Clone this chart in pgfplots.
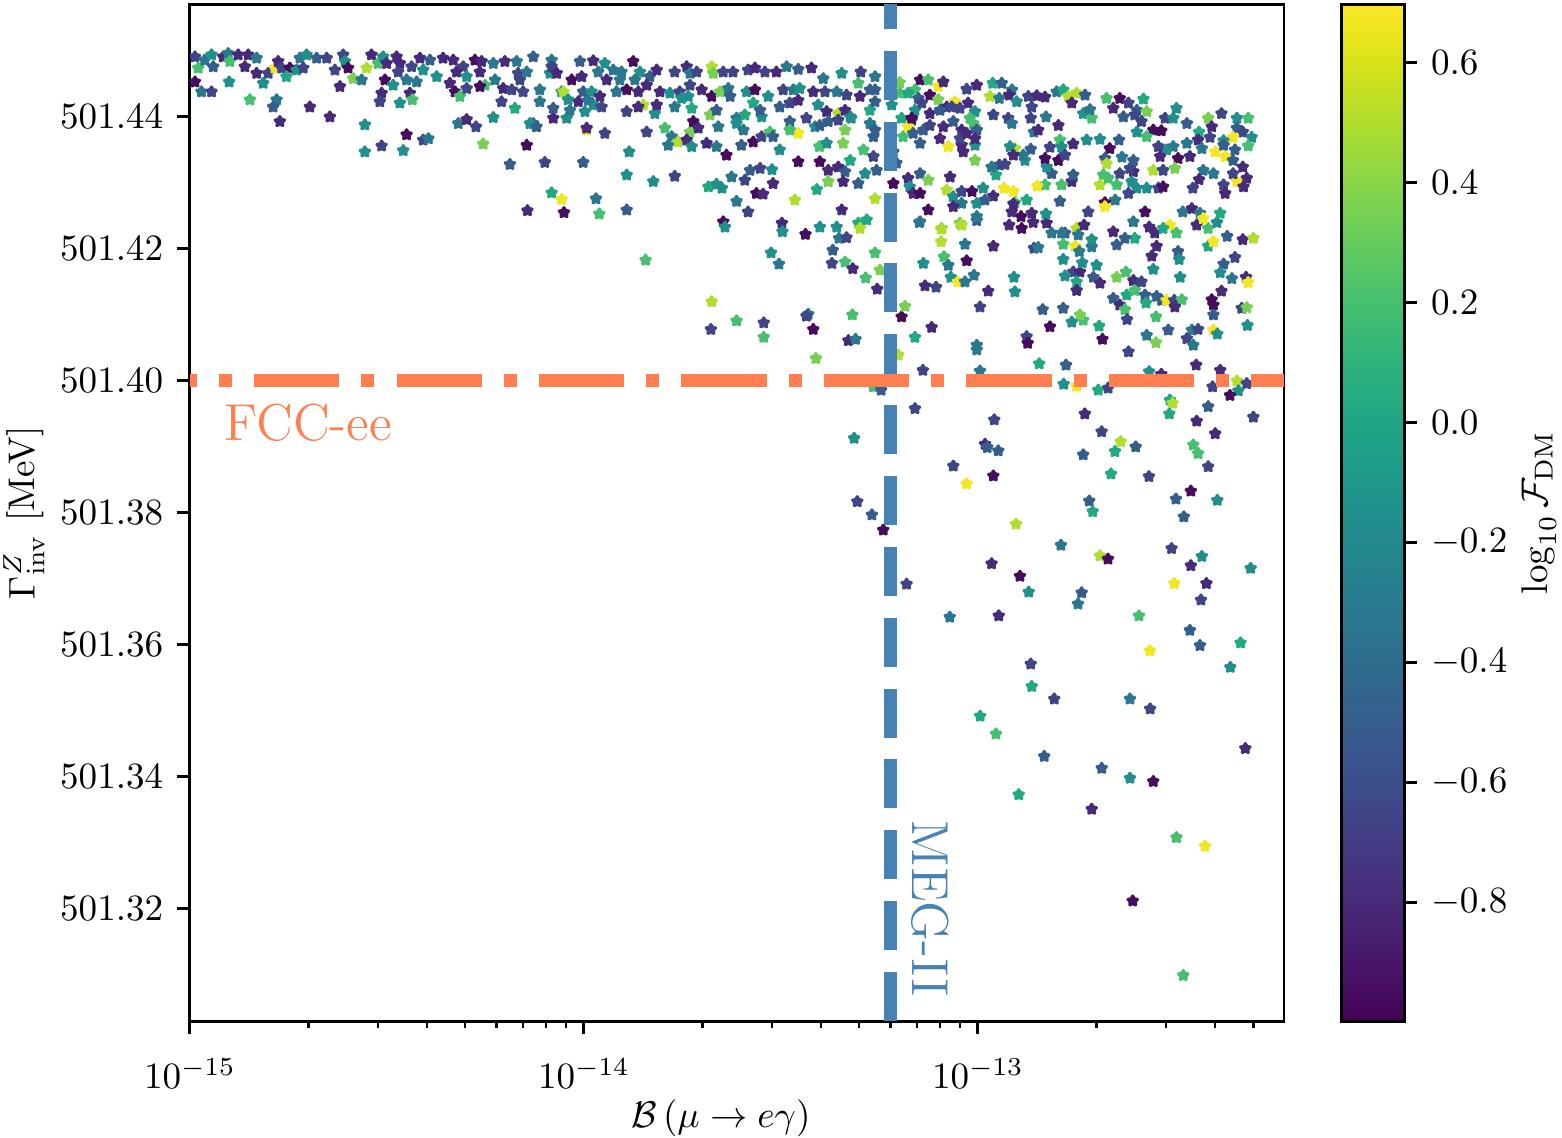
\documentclass[border=0pt]{standalone}
\usepackage{pgfplots}
\pgfplotsset{compat=1.18}
\definecolor{coral}{RGB}{255,127,80}
\definecolor{steelblue}{RGB}{70,130,180}
\def\ystrip#1.#2\relax{0.#2}
\pgfdeclareplotmark{fstar}{%
  \pgfsetroundjoin
  \pgfpathmoveto{\pgfpointpolar{90}{\pgfplotmarksize}}%
  \pgfpathlineto{\pgfpointpolar{126}{0.55*\pgfplotmarksize}}%
  \pgfpathlineto{\pgfpointpolar{162}{\pgfplotmarksize}}%
  \pgfpathlineto{\pgfpointpolar{198}{0.55*\pgfplotmarksize}}%
  \pgfpathlineto{\pgfpointpolar{234}{\pgfplotmarksize}}%
  \pgfpathlineto{\pgfpointpolar{270}{0.55*\pgfplotmarksize}}%
  \pgfpathlineto{\pgfpointpolar{306}{\pgfplotmarksize}}%
  \pgfpathlineto{\pgfpointpolar{342}{0.55*\pgfplotmarksize}}%
  \pgfpathlineto{\pgfpointpolar{18}{\pgfplotmarksize}}%
  \pgfpathlineto{\pgfpointpolar{54}{0.55*\pgfplotmarksize}}%
  \pgfpathclose
  \pgfusepathqfillstroke
}
\begin{document}
\begin{tikzpicture}
\begin{axis}[
  at={(0,0)}, anchor=south west,
  scale only axis, width=294.9pt, height=274.1pt,
  xmode=log, xmin=1e-15, xmax=5.98e-13,
  ymin=501.3029, ymax=501.4570,
  y coord trafo/.code={\pgfmathfloatparsenumber{#1}\pgfmathfloattofixed{\pgfmathresult}\edef\pgfmathresult{\expandafter\ystrip\pgfmathresult\relax}},
  enlargelimits=false,
  clip marker paths=true,
  xtick={1e-15,1e-14,1e-13},
  xticklabels={$10^{-15}$,$10^{-14}$,$10^{-13}$},
  minor xtick={2e-15,3e-15,4e-15,5e-15,6e-15,7e-15,8e-15,9e-15,2e-14,3e-14,4e-14,5e-14,6e-14,7e-14,8e-14,9e-14,2e-13,3e-13,4e-13,5e-13},
  ytick={501.32,501.34,501.36,501.38,501.40,501.42,501.44},
  yticklabels={$501.32$,$501.34$,$501.36$,$501.38$,$501.40$,$501.42$,$501.44$},
  xticklabel style={anchor=base, inner sep=0pt, yshift=-14.74pt},
  yticklabel style={anchor=east, inner sep=0pt, xshift=-3.5pt},
  tick align=outside, xtick pos=bottom, ytick pos=left,
  major tick length=3.5pt, minor tick length=2pt,
  tick style={line width=0.8pt, black},
  minor tick style={line width=0.6pt, black},
  axis line style={line width=0.8pt},
  colormap/viridis,
  point meta min=-0.998, point meta max=0.697,
]
\addplot[scatter, only marks, mark=fstar, mark size=1.35pt, line width=0.8pt,
  scatter src=explicit,
  scatter/use mapped color={draw=mapped color, fill=mapped color}]
  table[x=x, y=y, meta=c, row sep=\\] {
x y c\\
1.03e-15 501.4490 -0.65\\
1.05e-15 501.4473 0.20\\
1.03e-15 501.4452 -0.95\\
1.07e-15 501.4437 -0.33\\
1.09e-15 501.4485 -0.33\\
1.135e-15 501.4493 -0.15\\
1.146e-15 501.4475 -0.50\\
1.135e-15 501.4437 -0.65\\
1.215e-15 501.4490 -0.80\\
1.251e-15 501.4495 -0.33\\
1.263e-15 501.4483 0.20\\
1.258e-15 501.4452 -0.15\\
1.326e-15 501.4493 -0.80\\
1.406e-15 501.4493 -0.80\\
1.379e-15 501.4475 -0.80\\
1.477e-15 501.4488 -0.33\\
1.477e-15 501.4465 -0.80\\
1.58e-15 501.4465 -0.65\\
1.535e-15 501.4450 -0.15\\
1.42e-15 501.4425 0.20\\
1.644e-15 501.4473 0.67\\
1.675e-15 501.4483 -0.80\\
1.71e-15 501.4473 -0.65\\
1.794e-15 501.4473 -0.95\\
1.758e-15 501.4460 0.02\\
1.866e-15 501.4470 -0.15\\
1.902e-15 501.4488 -0.33\\
1.978e-15 501.4493 -0.15\\
1.94e-15 501.4473 -0.65\\
2.097e-15 501.4488 -0.50\\
2.224e-15 501.4488 -0.65\\
1.66e-15 501.4425 -0.33\\
1.627e-15 501.4414 -0.50\\
1.692e-15 501.4392 -0.80\\
2.016e-15 501.4414 -0.80\\
2.266e-15 501.4399 -0.80\\
2.45e-15 501.4493 -0.65\\
2.475e-15 501.4483 -0.15\\
2.334e-15 501.4470 -0.65\\
2.403e-15 501.4445 -0.80\\
2.52e-15 501.4473 -0.95\\
2.597e-15 501.4457 0.35\\
2.728e-15 501.4455 -0.33\\
2.809e-15 501.4473 0.50\\
2.89e-15 501.4493 -0.80\\
3.005e-15 501.4480 0.20\\
3.095e-15 501.4490 -0.15\\
3.126e-15 501.4455 -0.95\\
3.157e-15 501.4480 -0.80\\
3.28e-15 501.4447 -0.15\\
3.347e-15 501.4490 -0.80\\
3.412e-15 501.4480 -0.80\\
3.378e-15 501.4467 -0.65\\
3.548e-15 501.4455 -0.33\\
3.762e-15 501.4452 -0.33\\
3.653e-15 501.4475 -0.65\\
3.835e-15 501.4488 -0.80\\
4.066e-15 501.4485 -0.50\\
3.91e-15 501.4470 -0.15\\
4.23e-15 501.4460 -0.15\\
3.066e-15 501.4435 -0.80\\
3.035e-15 501.4422 -0.65\\
3.412e-15 501.4420 -0.15\\
3.617e-15 501.4435 -0.80\\
3.67e-15 501.4425 0.20\\
2.78e-15 501.4387 -0.15\\
3.548e-15 501.4372 -0.95\\
3.91e-15 501.4364 -0.65\\
4.03e-15 501.4366 -0.33\\
3.066e-15 501.4355 -0.65\\
2.78e-15 501.4346 -0.15\\
3.48e-15 501.4348 -0.15\\
4.39e-15 501.4488 -0.80\\
4.66e-15 501.4485 -0.80\\
4.94e-15 501.4475 -0.65\\
4.75e-15 501.4467 -0.80\\
4.57e-15 501.4450 -0.80\\
4.71e-15 501.4437 -0.95\\
4.845e-15 501.4430 0.20\\
5.04e-15 501.4442 -0.65\\
5.04e-15 501.4460 -0.15\\
5.29e-15 501.4485 -0.95\\
5.50e-15 501.4483 -0.80\\
5.446e-15 501.4467 -0.80\\
5.61e-15 501.4447 0.20\\
5.446e-15 501.4445 -0.95\\
5.89e-15 501.4480 -0.33\\
5.95e-15 501.4455 -0.33\\
6.30e-15 501.4483 -0.80\\
6.24e-15 501.4442 -0.80\\
6.18e-15 501.4422 -0.65\\
6.68e-15 501.4412 0.02\\
6.75e-15 501.4483 -0.33\\
6.81e-15 501.4465 -0.65\\
6.88e-15 501.4455 -0.65\\
6.56e-15 501.4440 -0.65\\
7.01e-15 501.4437 -0.65\\
7.44e-15 501.4490 -0.50\\
7.16e-15 501.4467 -0.33\\
7.73e-15 501.4422 -0.33\\
7.44e-15 501.4389 -0.33\\
7.73e-15 501.4440 -0.33\\
8.28e-15 501.4485 -0.33\\
8.20e-15 501.4465 -0.15\\
8.28e-15 501.4475 -0.65\\
8.53e-15 501.4465 -0.80\\
8.78e-15 501.4437 -0.15\\
8.36e-15 501.4397 -0.80\\
9.04e-15 501.4397 -0.15\\
8.87e-15 501.4437 0.50\\
9.31e-15 501.4455 -0.95\\
9.77e-15 501.4483 -0.50\\
9.87e-15 501.4460 -0.80\\
9.96e-15 501.4437 -0.50\\
9.68e-15 501.4422 -0.80\\
9.22e-15 501.4409 -0.33\\
1.006e-14 501.4407 -0.15\\
1.016e-14 501.4379 0.67\\
9.12e-15 501.4425 -0.15\\
8.36e-15 501.4412 -0.50\\
4.80e-15 501.4389 -0.33\\
5.04e-15 501.4395 -0.80\\
5.32e-15 501.4384 -0.65\\
5.89e-15 501.4398 -0.15\\
5.55e-15 501.4358 0.35\\
6.49e-15 501.4327 -0.50\\
7.16e-15 501.4356 -0.95\\
7.96e-15 501.4330 -0.65\\
9.96e-15 501.4330 -0.50\\
8.28e-15 501.4284 0.02\\
8.78e-15 501.4274 0.67\\
7.19e-15 501.4257 -0.80\\
8.90e-15 501.4254 -0.95\\
7.295e-15 501.4389 -0.15\\
7.58e-15 501.4384 -0.50\\
1.056e-14 501.4484 -0.80\\
1.13e-14 501.4480 -0.15\\
1.087e-14 501.4467 -0.33\\
1.187e-14 501.4470 -0.33\\
1.246e-14 501.4467 -0.33\\
1.334e-14 501.4483 -0.95\\
1.387e-14 501.4467 -0.15\\
1.347e-14 501.4455 -0.33\\
1.234e-14 501.4455 -0.33\\
1.142e-14 501.4455 -0.80\\
1.47e-14 501.4460 -0.50\\
1.53e-14 501.4470 -0.80\\
1.70e-14 501.4467 -0.65\\
1.823e-14 501.4475 -0.80\\
1.859e-14 501.4465 -0.33\\
1.933e-14 501.4467 -0.65\\
2.11e-14 501.4475 0.50\\
2.13e-14 501.4465 0.35\\
2.257e-14 501.4467 -0.65\\
2.39e-14 501.4467 -0.65\\
2.61e-14 501.4470 -0.65\\
2.716e-14 501.4473 -0.80\\
2.88e-14 501.4467 -0.65\\
3.08e-14 501.4467 -0.80\\
3.27e-14 501.4475 -0.33\\
3.50e-14 501.4471 -0.50\\
3.78e-14 501.4473 -0.80\\
4.05e-14 501.4457 -0.33\\
4.51e-14 501.4465 -0.15\\
5.04e-14 501.4467 -0.65\\
5.48e-14 501.4460 -0.33\\
6.33e-14 501.4451 0.35\\
7.13e-14 501.4455 -0.95\\
7.48e-14 501.4455 0.20\\
7.93e-14 501.4445 0.67\\
8.17e-14 501.4452 -0.80\\
9.36e-14 501.4441 -0.65\\
9.93e-14 501.4447 -0.80\\
6.92e-14 501.4440 0.20\\
1.046e-14 501.4437 -0.15\\
1.098e-14 501.4430 -0.80\\
1.21e-14 501.4437 -0.33\\
1.284e-14 501.4440 -0.95\\
1.374e-14 501.4437 -0.80\\
1.443e-14 501.4447 -0.80\\
1.56e-14 501.4437 -0.80\\
1.653e-14 501.4435 -0.15\\
1.75e-14 501.4437 -0.65\\
1.859e-14 501.4447 -0.65\\
1.84e-14 501.4430 -0.15\\
1.99e-14 501.4440 -0.80\\
2.11e-14 501.4430 -0.95\\
2.215e-14 501.4437 0.35\\
2.325e-14 501.4442 -0.33\\
2.35e-14 501.4430 -0.50\\
2.587e-14 501.4437 -0.15\\
2.716e-14 501.4440 -0.95\\
2.935e-14 501.4430 -0.15\\
3.205e-14 501.4440 -0.65\\
3.40e-14 501.4440 -0.33\\
3.53e-14 501.4442 -0.15\\
3.82e-14 501.4437 -0.80\\
4.09e-14 501.4437 -0.65\\
4.38e-14 501.4437 -0.33\\
4.64e-14 501.4432 -0.65\\
5.02e-14 501.4430 -0.80\\
5.32e-14 501.4440 -0.50\\
4.97e-14 501.4450 0.20\\
5.48e-14 501.4440 -0.50\\
6.33e-14 501.4435 0.20\\
6.65e-14 501.4435 0.02\\
7.06e-14 501.4427 -0.50\\
7.55e-14 501.4432 -0.95\\
7.93e-14 501.4425 0.35\\
8.74e-14 501.4422 0.67\\
8.33e-14 501.4414 -0.80\\
9.44e-14 501.4420 -0.80\\
9.0e-14 501.4412 -0.65\\
1.056e-14 501.4417 -0.15\\
1.025e-14 501.4424 -0.33\\
1.109e-14 501.4414 -0.65\\
1.284e-14 501.4407 -0.65\\
1.415e-14 501.4417 0.50\\
1.374e-14 501.4414 -0.80\\
1.514e-14 501.4404 -0.15\\
1.53e-14 501.4417 -0.80\\
1.70e-14 501.4414 -0.33\\
1.877e-14 501.4412 0.02\\
1.77e-14 501.4427 -0.15\\
2.09e-14 501.4402 0.35\\
2.17e-14 501.4409 -0.50\\
2.44e-14 501.4397 -0.33\\
2.56e-14 501.4402 0.02\\
2.69e-14 501.4420 0.02\\
2.825e-14 501.4399 -0.15\\
2.80e-14 501.4409 -0.50\\
3.14e-14 501.4414 -0.50\\
3.33e-14 501.4420 -0.65\\
3.50e-14 501.4424 -0.80\\
3.67e-14 501.4397 -0.65\\
3.93e-14 501.4417 -0.15\\
4.13e-14 501.4407 -0.80\\
4.42e-14 501.4404 0.50\\
4.60e-14 501.4409 -0.80\\
4.74e-14 501.4399 -0.33\\
5.32e-14 501.4409 0.02\\
5.48e-14 501.4422 -0.50\\
6.04e-14 501.4417 -0.15\\
6.40e-14 501.4397 0.02\\
6.79e-14 501.4394 -0.80\\
6.92e-14 501.4409 -0.15\\
7.20e-14 501.4420 -0.65\\
7.55e-14 501.4404 -0.80\\
8.01e-14 501.4409 -0.50\\
8.58e-14 501.4414 -0.65\\
9.83e-14 501.4407 -0.15\\
9.54e-14 501.4397 0.20\\
9.83e-14 501.4384 0.35\\
1.13e-14 501.4374 -0.65\\
1.016e-14 501.4382 -0.80\\
1.303e-14 501.4346 -0.15\\
1.443e-14 501.4376 -0.65\\
1.605e-14 501.4382 0.20\\
1.67e-14 501.4369 -0.33\\
1.637e-14 501.4356 -0.33\\
1.735e-14 501.4361 0.50\\
1.859e-14 501.4376 0.35\\
1.895e-14 501.4392 -0.95\\
1.951e-14 501.4382 -0.80\\
1.823e-14 501.4364 -0.80\\
1.877e-14 501.4354 -0.15\\
2.048e-14 501.4359 -0.80\\
2.17e-14 501.4354 -0.33\\
2.193e-14 501.4384 -0.33\\
2.30e-14 501.4341 -0.95\\
2.44e-14 501.4389 -0.15\\
2.54e-14 501.4379 -0.33\\
2.51e-14 501.4356 -0.50\\
2.69e-14 501.4361 -0.95\\
2.825e-14 501.4369 -0.65\\
2.966e-14 501.4376 0.20\\
3.02e-14 501.4369 -0.50\\
3.14e-14 501.4349 -0.15\\
3.33e-14 501.4392 -0.50\\
3.50e-14 501.4374 0.67\\
3.33e-14 501.4379 0.20\\
3.86e-14 501.4384 -0.15\\
3.97e-14 501.4386 -0.50\\
4.17e-14 501.4392 -0.50\\
4.60e-14 501.4379 0.35\\
4.42e-14 501.4394 -0.65\\
4.77e-14 501.4397 -0.15\\
5.32e-14 501.4389 -0.33\\
5.48e-14 501.4379 -0.50\\
5.43e-14 501.4369 -0.50\\
6.46e-14 501.4369 0.20\\
6.65e-14 501.4384 0.67\\
6.79e-14 501.4397 -0.95\\
7.27e-14 501.4379 -0.50\\
8.01e-14 501.4366 -0.80\\
8.41e-14 501.4354 0.67\\
7.55e-14 501.4386 -0.65\\
9.09e-14 501.4356 -0.80\\
9.09e-14 501.4379 -0.80\\
9.83e-14 501.4333 0.35\\
7.13e-14 501.4359 -0.50\\
6.85e-14 501.4374 -0.50\\
1.284e-14 501.4311 -0.15\\
1.50e-14 501.4301 -0.15\\
1.70e-14 501.4309 -0.65\\
2.07e-14 501.4293 0.02\\
2.17e-14 501.4297 -0.15\\
2.24e-14 501.4291 -0.15\\
2.37e-14 501.4308 -0.33\\
2.56e-14 501.4303 -0.65\\
2.64e-14 501.4318 -0.50\\
2.80e-14 501.4321 -0.65\\
3.00e-14 501.4319 -0.15\\
3.02e-14 501.4298 -0.80\\
2.74e-14 501.4283 -0.95\\
2.85e-14 501.4282 -0.80\\
2.44e-14 501.4271 -0.33\\
2.61e-14 501.4255 -0.65\\
3.43e-14 501.4273 0.50\\
3.18e-14 501.4238 -0.80\\
2.257e-14 501.4240 -0.95\\
2.28e-14 501.4232 -0.15\\
1.073e-14 501.4275 -0.33\\
1.284e-14 501.4258 -0.50\\
1.094e-14 501.4252 0.20\\
3.50e-14 501.4331 -0.95\\
3.97e-14 501.4331 -0.95\\
3.96e-14 501.4354 0.20\\
4.13e-14 501.4359 -0.15\\
4.17e-14 501.4318 -0.80\\
4.42e-14 501.4323 -0.80\\
4.60e-14 501.4316 -0.50\\
4.74e-14 501.4333 0.02\\
4.55e-14 501.4359 0.35\\
5.12e-14 501.4349 0.20\\
5.43e-14 501.4339 -0.65\\
5.17e-14 501.4313 -0.15\\
5.53e-14 501.4318 -0.50\\
4.97e-14 501.4298 -0.50\\
4.17e-14 501.4301 0.35\\
4.55e-14 501.4301 -0.80\\
3.90e-14 501.4289 0.02\\
4.51e-14 501.4258 -0.80\\
5.48e-14 501.4275 0.50\\
6.10e-14 501.4298 -0.95\\
6.65e-14 501.4306 -0.80\\
7.13e-14 501.4313 -0.50\\
7.48e-14 501.4303 0.35\\
6.71e-14 501.4293 -0.15\\
6.85e-14 501.4283 -0.80\\
7.13e-14 501.4283 -0.95\\
8.50e-14 501.4308 -0.80\\
8.33e-14 501.4288 0.50\\
8.66e-14 501.4278 -0.15\\
9.09e-14 501.4286 -0.65\\
9.93e-14 501.4268 -0.15\\
9.09e-14 501.4268 -0.33\\
8.66e-14 501.4263 -0.80\\
7.48e-14 501.4258 -0.95\\
7.13e-14 501.4240 -0.50\\
8.09e-14 501.4230 0.35\\
9.0e-14 501.4238 0.35\\
6.21e-14 501.4329 -0.50\\
6.10e-14 501.4346 -0.50\\
9.83e-14 501.4356 -0.15\\
9.0e-14 501.4366 -0.65\\
8.17e-14 501.4384 -0.80\\
8.66e-14 501.4392 -0.50\\
9.73e-14 501.4389 0.20\\
4.97e-14 501.4238 0.02\\
5.22e-14 501.4243 0.02\\
3.97e-14 501.4232 -0.15\\
4.38e-14 501.4232 -0.15\\
3.19e-14 501.4225 -0.15\\
3.65e-14 501.4221 -0.95\\
4.44e-14 501.4215 -0.33\\
4.64e-14 501.4216 -0.65\\
5.02e-14 501.4230 0.50\\
1.434e-14 501.4182 0.20\\
2.985e-14 501.4193 -0.15\\
3.126e-14 501.4176 -0.33\\
4.28e-14 501.4197 -0.50\\
4.26e-14 501.4177 -0.65\\
4.60e-14 501.4179 0.20\\
4.81e-14 501.4169 -0.80\\
5.19e-14 501.4155 0.20\\
5.48e-14 501.4193 0.20\\
5.64e-14 501.4167 0.35\\
5.55e-14 501.4138 -0.80\\
2.11e-14 501.4119 0.50\\
2.10e-14 501.4077 -0.65\\
2.44e-14 501.4090 0.20\\
2.86e-14 501.4087 -0.65\\
2.86e-14 501.4065 0.20\\
3.71e-14 501.4100 -0.33\\
3.67e-14 501.4097 -0.65\\
3.82e-14 501.4077 -0.95\\
4.80e-14 501.4099 0.20\\
4.69e-14 501.4060 -0.80\\
4.89e-14 501.4062 -0.33\\
3.88e-14 501.4033 0.35\\
6.28e-14 501.4038 0.50\\
5.43e-14 501.3990 0.20\\
5.68e-14 501.3985 -0.50\\
4.85e-14 501.3912 -0.15\\
4.94e-14 501.3816 -0.65\\
5.38e-14 501.3796 -0.50\\
5.75e-14 501.3773 -0.95\\
7.10e-14 501.4239 -0.33\\
8.06e-14 501.4229 0.50\\
8.06e-14 501.4210 0.50\\
9.09e-14 501.4235 0.50\\
9.93e-14 501.4242 -0.50\\
1.20e-13 501.4235 -0.80\\
1.291e-13 501.4230 -0.95\\
1.381e-13 501.4239 -0.80\\
1.494e-13 501.4238 -0.80\\
1.538e-13 501.4223 -0.33\\
1.663e-13 501.4223 -0.50\\
1.78e-13 501.4230 0.50\\
1.859e-13 501.4235 -0.80\\
1.797e-13 501.4220 -0.33\\
2.205e-13 501.4225 -0.80\\
2.48e-13 501.4240 -0.33\\
2.72e-13 501.4232 -0.80\\
2.81e-13 501.4223 -0.80\\
3.07e-13 501.4235 0.67\\
3.19e-13 501.4223 0.20\\
3.59e-13 501.4235 -0.80\\
3.84e-13 501.4230 0.20\\
4.04e-13 501.4239 -0.15\\
4.29e-13 501.4218 -0.50\\
4.70e-13 501.4213 -0.80\\
5.00e-13 501.4215 0.50\\
3.84e-13 501.4203 0.02\\
3.96e-13 501.4210 0.67\\
9.27e-14 501.4206 -0.33\\
1.094e-13 501.4203 -0.80\\
1.387e-13 501.4200 -0.65\\
1.422e-13 501.4201 -0.33\\
1.646e-13 501.4206 0.20\\
1.763e-13 501.4203 0.67\\
1.808e-13 501.4195 -0.33\\
1.944e-13 501.4202 -0.33\\
2.25e-13 501.4205 -0.50\\
2.50e-13 501.4215 0.02\\
2.84e-13 501.4203 -0.80\\
2.76e-13 501.4188 -0.80\\
3.22e-13 501.4195 -0.50\\
3.24e-13 501.4183 -0.15\\
4.49e-13 501.4186 -0.65\\
4.20e-13 501.4176 -0.50\\
4.12e-13 501.4163 -0.15\\
4.41e-13 501.4154 -0.33\\
4.79e-13 501.4156 -0.80\\
4.85e-13 501.4148 0.67\\
7.27e-14 501.4177 -0.15\\
8.20e-14 501.4187 0.20\\
8.41e-14 501.4174 -0.33\\
9.36e-14 501.4181 -0.95\\
8.53e-14 501.4156 -0.15\\
8.89e-14 501.4149 0.67\\
9.27e-14 501.4149 -0.33\\
9.77e-14 501.4159 -0.33\\
7.34e-14 501.4143 -0.80\\
7.83e-14 501.4141 -0.65\\
1.062e-13 501.4135 -0.80\\
1.234e-13 501.4156 -0.15\\
1.241e-13 501.4134 -0.15\\
1.646e-13 501.4183 -0.15\\
1.745e-13 501.4164 -0.65\\
1.815e-13 501.4164 -0.80\\
1.663e-13 501.4158 -0.15\\
1.78e-13 501.4149 0.02\\
1.78e-13 501.4136 -0.80\\
1.84e-13 501.4178 -0.15\\
2.00e-13 501.4174 -0.15\\
1.963e-13 501.4156 -0.50\\
2.04e-13 501.4147 -0.80\\
2.25e-13 501.4156 0.35\\
2.375e-13 501.4164 0.20\\
2.48e-13 501.4151 -0.80\\
2.60e-13 501.4149 -0.65\\
2.786e-13 501.4168 -0.15\\
2.385e-13 501.4129 0.02\\
2.50e-13 501.4136 0.20\\
2.654e-13 501.4129 -0.50\\
2.84e-13 501.4127 -0.50\\
2.923e-13 501.4121 -0.50\\
3.01e-13 501.4121 0.67\\
3.15e-13 501.4121 -0.65\\
3.29e-13 501.4122 0.20\\
3.16e-13 501.4111 -0.80\\
2.205e-13 501.4124 -0.50\\
2.29e-13 501.4114 -0.80\\
2.36e-13 501.4107 0.20\\
2.39e-13 501.4092 -0.65\\
2.67e-13 501.4117 0.02\\
3.26e-13 501.4156 -0.15\\
3.92e-13 501.4122 -0.95\\
3.96e-13 501.4114 -0.95\\
4.15e-13 501.4135 -0.80\\
4.67e-13 501.4109 -0.65\\
4.81e-13 501.4110 0.35\\
3.96e-13 501.4099 -0.50\\
4.83e-13 501.4083 -0.15\\
3.49e-13 501.4076 -0.33\\
3.62e-13 501.4077 -0.65\\
3.96e-13 501.4076 0.67\\
4.05e-13 501.4070 -0.15\\
3.39e-13 501.4063 -0.65\\
3.52e-13 501.4053 -0.33\\
3.04e-13 501.4076 -0.50\\
2.83e-13 501.4096 0.20\\
2.83e-13 501.4057 0.35\\
2.68e-13 501.4068 -0.33\\
2.41e-13 501.4043 -0.65\\
2.03e-13 501.4082 0.02\\
2.07e-13 501.4062 -0.95\\
1.85e-13 501.4091 0.20\\
1.815e-13 501.4099 0.35\\
1.73e-13 501.4088 -0.15\\
1.646e-13 501.4109 -0.50\\
1.46e-13 501.4107 -0.50\\
1.523e-13 501.4081 -0.95\\
1.329e-13 501.4066 -0.65\\
1.337e-13 501.4056 -0.95\\
9.93e-14 501.4053 -0.33\\
9.93e-14 501.4046 -0.33\\
1.012e-13 501.4111 -0.65\\
7.63e-14 501.4080 -0.80\\
6.92e-14 501.4065 0.02\\
6.40e-14 501.4096 -0.95\\
6.53e-14 501.4112 0.35\\
1.43e-13 501.4025 0.02\\
1.673e-13 501.4023 -0.50\\
1.65e-13 501.3994 -0.15\\
1.78e-13 501.3991 0.67\\
2.02e-13 501.3985 0.02\\
2.14e-13 501.3988 -0.65\\
2.72e-13 501.4013 -0.15\\
2.92e-13 501.4009 -0.80\\
3.58e-13 501.4023 -0.80\\
4.12e-13 501.4015 -0.80\\
4.54e-13 501.3999 0.50\\
4.81e-13 501.3995 -0.65\\
4.58e-13 501.3984 -0.15\\
4.36e-13 501.3977 -0.95\\
3.94e-13 501.3990 -0.65\\
3.07e-13 501.3970 0.02\\
3.12e-13 501.3965 0.50\\
3.06e-13 501.3949 0.02\\
3.84e-13 501.3960 -0.50\\
3.59e-13 501.3938 -0.80\\
5.00e-13 501.3944 -0.65\\
7.25e-14 501.4015 -0.65\\
1.012e-13 501.4014 -0.33\\
6.92e-14 501.3957 -0.65\\
1.10e-13 501.3940 -0.65\\
1.867e-13 501.3949 -0.80\\
1.09e-13 501.4450 0.02\\
1.149e-13 501.4450 -0.50\\
1.073e-13 501.4430 0.50\\
1.133e-13 501.4427 -0.33\\
1.22e-13 501.4440 -0.33\\
1.20e-13 501.4432 -0.80\\
1.254e-13 501.4422 -0.15\\
1.342e-13 501.4430 -0.65\\
1.41e-13 501.4431 -0.80\\
1.48e-13 501.4429 -0.80\\
1.584e-13 501.4437 -0.33\\
1.646e-13 501.4440 0.02\\
1.695e-13 501.4430 0.50\\
1.78e-13 501.4435 0.50\\
1.73e-13 501.4420 -0.80\\
1.87e-13 501.4432 -0.50\\
9.36e-14 501.4374 -0.80\\
9.93e-14 501.4379 -0.50\\
9.83e-14 501.4366 -0.80\\
1.094e-13 501.4402 -0.65\\
1.193e-13 501.4397 -0.65\\
1.218e-13 501.4389 -0.33\\
1.369e-13 501.4414 -0.65\\
1.361e-13 501.4397 -0.65\\
1.488e-13 501.4399 -0.33\\
1.387e-13 501.4376 -0.33\\
1.422e-13 501.4379 -0.80\\
1.60e-13 501.4386 -0.80\\
1.614e-13 501.4364 0.20\\
1.523e-13 501.4353 -0.65\\
1.63e-13 501.4353 -0.15\\
1.745e-13 501.4358 -0.80\\
1.888e-13 501.4364 -0.15\\
1.85e-13 501.4404 -0.15\\
1.944e-13 501.4397 0.20\\
1.925e-13 501.4410 -0.33\\
2.12e-13 501.4427 0.20\\
2.29e-13 501.4427 -0.95\\
2.41e-13 501.4420 -0.65\\
2.63e-13 501.4426 0.02\\
2.53e-13 501.4409 -0.50\\
2.205e-13 501.4412 -0.80\\
2.34e-13 501.4399 -0.50\\
2.50e-13 501.4402 -0.65\\
2.68e-13 501.4407 0.35\\
2.60e-13 501.4392 -0.65\\
2.786e-13 501.4379 -0.95\\
2.92e-13 501.4378 -0.95\\
2.68e-13 501.4369 0.20\\
2.53e-13 501.4376 -0.15\\
2.985e-13 501.4397 -0.65\\
3.13e-13 501.4397 -0.15\\
3.19e-13 501.4412 -0.15\\
3.39e-13 501.4389 -0.50\\
3.64e-13 501.4376 0.02\\
3.84e-13 501.4397 0.35\\
3.92e-13 501.4384 -0.80\\
4.15e-13 501.4404 -0.65\\
4.54e-13 501.4397 -0.15\\
4.85e-13 501.4397 0.20\\
4.54e-13 501.4382 -0.50\\
4.70e-13 501.4376 -0.65\\
4.95e-13 501.4368 -0.15\\
4.85e-13 501.4355 0.20\\
4.44e-13 501.4368 0.67\\
4.20e-13 501.4363 -0.15\\
3.88e-13 501.4368 -0.65\\
3.62e-13 501.4364 -0.80\\
3.70e-13 501.4351 -0.33\\
3.39e-13 501.4359 -0.33\\
3.13e-13 501.4354 -0.33\\
3.45e-13 501.4339 -0.80\\
3.22e-13 501.4336 -0.95\\
3.01e-13 501.4349 -0.15\\
2.87e-13 501.4354 -0.65\\
2.90e-13 501.4339 -0.80\\
4.00e-13 501.4346 0.67\\
4.24e-13 501.4339 0.67\\
4.20e-13 501.4356 -0.50\\
4.49e-13 501.4349 -0.50\\
4.44e-13 501.4333 -0.50\\
4.70e-13 501.4323 -0.80\\
3.73e-13 501.4318 -0.33\\
3.96e-13 501.4313 -0.33\\
3.64e-13 501.4304 -0.80\\
3.51e-13 501.4291 -0.65\\
4.20e-13 501.4296 -0.65\\
4.54e-13 501.4301 0.67\\
4.81e-13 501.4306 -0.80\\
4.72e-13 501.4293 -0.80\\
4.24e-13 501.4283 -0.80\\
4.44e-13 501.4313 -0.65\\
2.786e-13 501.4318 0.50\\
3.16e-13 501.4321 0.35\\
2.95e-13 501.4318 -0.65\\
2.87e-13 501.4291 -0.65\\
2.95e-13 501.4293 -0.95\\
2.68e-13 501.4291 -0.15\\
2.48e-13 501.4316 -0.80\\
2.43e-13 501.4321 -0.65\\
2.32e-13 501.4338 -0.33\\
2.48e-13 501.4333 -0.50\\
2.16e-13 501.4351 -0.95\\
2.28e-13 501.4364 -0.50\\
2.04e-13 501.4365 -0.15\\
2.10e-13 501.4336 -0.50\\
2.12e-13 501.4328 0.50\\
2.29e-13 501.4313 -0.65\\
2.08e-13 501.4311 0.20\\
2.04e-13 501.4296 0.50\\
2.25e-13 501.4296 0.20\\
2.14e-13 501.4306 0.20\\
2.455e-13 501.4301 -0.15\\
2.53e-13 501.4291 -0.15\\
2.41e-13 501.4283 -0.65\\
2.23e-13 501.4273 -0.33\\
2.10e-13 501.4269 -0.95\\
2.10e-13 501.4263 0.67\\
1.905e-13 501.4255 -0.65\\
1.73e-13 501.4301 -0.80\\
1.745e-13 501.4311 -0.50\\
1.63e-13 501.4296 0.20\\
1.538e-13 501.4313 -0.50\\
1.48e-13 501.4296 0.20\\
1.415e-13 501.4294 0.67\\
1.494e-13 501.4323 -0.15\\
1.60e-13 501.4333 -0.95\\
1.663e-13 501.4341 -0.65\\
1.48e-13 501.4336 -0.95\\
1.361e-13 501.4350 -0.50\\
1.316e-13 501.4333 -0.15\\
1.303e-13 501.4341 -0.33\\
1.241e-13 501.4351 0.50\\
1.206e-13 501.4354 -0.15\\
1.23e-13 501.4341 -0.80\\
1.133e-13 501.4326 -0.65\\
1.111e-13 501.4311 0.02\\
1.083e-13 501.4323 -0.33\\
1.171e-13 501.4327 -0.65\\
9.18e-14 501.4346 -0.80\\
1.031e-13 501.4291 -0.15\\
1.094e-13 501.4279 -0.80\\
1.164e-13 501.4291 0.67\\
1.23e-13 501.4286 0.67\\
1.241e-13 501.4269 0.20\\
1.329e-13 501.4273 0.02\\
1.369e-13 501.4253 -0.80\\
1.286e-13 501.4248 -0.95\\
1.488e-13 501.4252 -0.15\\
1.614e-13 501.4271 -0.50\\
1.63e-13 501.4223 -0.33\\
1.944e-13 501.4213 -0.15\\
2.36e-13 501.4215 -0.50\\
2.654e-13 501.4255 -0.95\\
2.95e-13 501.4230 0.02\\
3.31e-13 501.4255 -0.33\\
3.49e-13 501.4260 -0.80\\
3.66e-13 501.4253 -0.33\\
3.73e-13 501.4245 0.67\\
4.12e-13 501.4253 0.02\\
9.93e-14 501.4248 -0.33\\
1.23e-13 501.4267 -0.80\\
1.218e-13 501.4255 -0.80\\
1.042e-13 501.4273 -0.50\\
9.66e-14 501.4286 -0.95\\
2.06e-13 501.3922 -0.65\\
4.00e-13 501.3919 -0.80\\
1.042e-13 501.3903 -0.80\\
1.056e-13 501.3898 -0.50\\
1.126e-13 501.3893 -0.50\\
1.850e-13 501.3887 -0.50\\
2.227e-13 501.3892 0.02\\
2.303e-13 501.3907 0.50\\
2.514e-13 501.3899 -0.50\\
3.52e-13 501.3902 0.20\\
3.62e-13 501.3889 0.20\\
3.84e-13 501.3869 -0.65\\
8.66e-14 501.3870 -0.65\\
1.094e-13 501.3855 -0.95\\
9.36e-14 501.3843 0.67\\
2.176e-13 501.3858 0.02\\
2.716e-13 501.3854 -0.65\\
3.47e-13 501.3832 -0.95\\
3.18e-13 501.3820 -0.50\\
4.05e-13 501.3818 -0.15\\
1.916e-13 501.3817 -0.50\\
1.955e-13 501.3801 0.02\\
3.33e-13 501.3793 -0.50\\
1.249e-13 501.3782 0.50\\
1.624e-13 501.3750 -0.33\\
3.10e-13 501.3745 -0.65\\
3.70e-13 501.3733 -0.15\\
2.04e-13 501.3734 0.50\\
2.138e-13 501.3729 -0.95\\
4.92e-13 501.3715 -0.15\\
1.083e-13 501.3722 -0.80\\
3.47e-13 501.3719 -0.80\\
1.278e-13 501.3703 -0.95\\
6.59e-14 501.3691 -0.65\\
1.345e-13 501.3679 -0.15\\
1.833e-13 501.3678 -0.50\\
1.794e-13 501.3661 -0.33\\
3.15e-13 501.3692 0.67\\
3.80e-13 501.3692 -0.80\\
3.68e-13 501.3667 -0.65\\
8.48e-14 501.3641 -0.33\\
1.129e-13 501.3643 -0.80\\
2.562e-13 501.3643 0.20\\
3.45e-13 501.3621 -0.50\\
3.66e-13 501.3598 -0.50\\
4.64e-13 501.3602 0.02\\
2.733e-13 501.3590 0.67\\
4.37e-13 501.3565 -0.15\\
1.361e-13 501.3570 -0.65\\
1.369e-13 501.3536 0.02\\
1.562e-13 501.3517 -0.65\\
2.431e-13 501.3517 -0.33\\
2.736e-13 501.3502 -0.65\\
1.013e-13 501.3491 0.02\\
1.111e-13 501.3464 0.20\\
4.77e-13 501.3442 -0.80\\
1.473e-13 501.3430 -0.50\\
2.061e-13 501.3412 -0.50\\
2.431e-13 501.3397 -0.15\\
2.786e-13 501.3392 -0.95\\
1.269e-13 501.3372 0.02\\
1.944e-13 501.3350 -0.80\\
3.19e-13 501.3307 0.20\\
3.77e-13 501.3294 0.67\\
2.470e-13 501.3211 -0.95\\
3.32e-13 501.3098 0.20\\
};
\addplot[steelblue, line width=3.6pt, dash pattern=on 13.2pt off 5.9pt]
  coordinates {(6e-14,501.3029) (6e-14,501.4570)};
\addplot[coral, line width=3.55pt, dash pattern=on 23pt off 5.9pt on 3.5pt off 6pt, dash phase=21.1pt]
  coordinates {(1e-15,501.40) (5.98e-13,501.40)};
\node[coral, anchor=base west, inner sep=0pt, font=\fontsize{14}{16}\selectfont]
  at (axis cs:1.22e-15,501.3908) {FCC-ee};
\node[steelblue, rotate=-90, anchor=base west, inner sep=0pt, font=\fontsize{14}{16}\selectfont]
  at (axis cs:6.84e-14,501.3334) {MEG-II};
\end{axis}
\begin{axis}[
  at={(310.3pt,0)}, anchor=south west,
  scale only axis, width=17pt, height=274.1pt,
  xmin=0, xmax=1, ymin=-0.998, ymax=0.697,
  enlargelimits=false, axis on top,
  xtick=\empty,
  ytick={-0.8,-0.6,-0.4,-0.2,0,0.2,0.4,0.6},
  yticklabels={$-0.8$,$-0.6$,$-0.4$,$-0.2$,$0.0$,$0.2$,$0.4$,$0.6$},
  ytick pos=right, yticklabel pos=right,
  yticklabel style={anchor=west, inner sep=0pt, xshift=3.5pt},
  tick align=outside, major tick length=3.5pt,
  tick style={line width=0.8pt, black},
  axis line style={line width=0.8pt},
  colormap/viridis,
  point meta min=-0.998, point meta max=0.697,
]
\addplot[surf, shader=interp, mesh/cols=2, point meta=y] coordinates {
(0,-0.998) (1,-0.998)
(0,-0.8) (1,-0.8)
(0,-0.6) (1,-0.6)
(0,-0.4) (1,-0.4)
(0,-0.2) (1,-0.2)
(0,0) (1,0)
(0,0.2) (1,0.2)
(0,0.4) (1,0.4)
(0,0.6) (1,0.6)
(0,0.697) (1,0.697)
};
\end{axis}
\node[anchor=base, inner sep=0pt] at (143.1pt,-28.6pt) {$\mathcal{B}\left(\mu\to e\gamma\right)$};
\node[rotate=90, anchor=base, inner sep=0pt] at (-41.9pt,137.05pt) {$\Gamma^{Z}_{\rm inv}$ [MeV]};
\node[rotate=90, anchor=base, inner sep=0pt] at (365.8pt,137.05pt) {$\log_{10}\mathcal{F}_{\rm DM}$};
\pgfresetboundingbox
\path[use as bounding box] (-51.2pt,-31.3pt) rectangle (369.8pt,275.2pt);
\end{tikzpicture}
\end{document}
